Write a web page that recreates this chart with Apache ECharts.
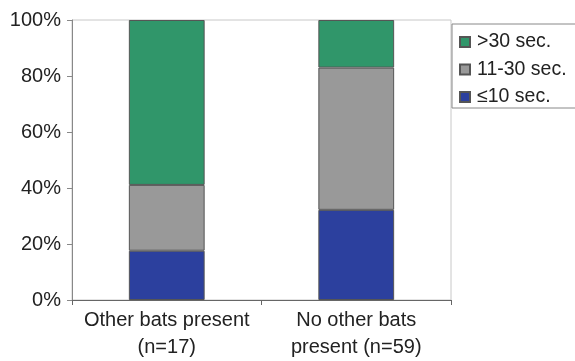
<!DOCTYPE html>
<html>
<head>
<meta charset="utf-8">
<script src="https://cdn.jsdelivr.net/npm/echarts@6/dist/echarts.min.js"></script>
<style>
html,body{margin:0;padding:0;background:#fff;}
#chart{width:575px;height:361px;}
</style>
</head>
<body>
<div id="chart"></div>
<script>
var categories = ['Other bats present\n(n=17)', 'No other bats\npresent (n=59)'];
var seriesNames = ['≤10 sec.', '11-30 sec.', '>30 sec.'];
var shortVals = [17.6, 32.2];
var midVals = [23.5, 50.8];
var longVals = [58.9, 17.0];
var yTicks = [0, 20, 40, 60, 80, 100];

var font = '"Liberation Sans", Arial, sans-serif';
var chart = echarts.init(document.getElementById('chart'), null, {renderer: 'canvas'});
function bar(name, data, color) {
  return {
    name: name, type: 'bar', stack: 'total', data: data, barWidth: '40%',
    itemStyle: {color: color, borderColor: '#555', borderWidth: 1},
    emphasis: {disabled: true}
  };
}
chart.setOption({
  animation: false,
  backgroundColor: '#fff',
  grid: {left: 72, right: 124, top: 20, bottom: 59, show: true, borderColor: '#c8c8c8', borderWidth: 1},
  legend: {
    orient: 'vertical', left: 452, top: 24,
    icon: 'rect',
    data: [seriesNames[2], seriesNames[1], seriesNames[0]],
    itemWidth: 10, itemHeight: 10, itemGap: 7.5,
    padding: [8, 40, 1, 7],
    borderColor: '#888', borderWidth: 1,
    textStyle: {fontFamily: font, fontSize: 19.5, color: '#222', lineHeight: 20, padding: [0, 0, 0, 2]},
    selectedMode: false
  },
  xAxis: {
    type: 'category', data: categories,
    axisLine: {lineStyle: {color: '#666'}},
    axisTick: {show: true, alignWithLabel: false, length: 5, lineStyle: {color: '#666'}},
    axisLabel: {interval: 0, fontFamily: font, fontSize: 20, color: '#222', lineHeight: 27, margin: 7}
  },
  yAxis: {
    type: 'value', min: yTicks[0], max: yTicks[yTicks.length - 1], interval: 20,
    splitLine: {show: false},
    axisLine: {show: true, lineStyle: {color: '#888'}},
    axisTick: {show: true, length: 5, lineStyle: {color: '#888'}},
    axisLabel: {formatter: '{value}%', fontFamily: font, fontSize: 20, color: '#222', margin: 11}
  },
  series: [
    bar(seriesNames[0], shortVals, '#2c409e'),
    bar(seriesNames[1], midVals, '#999999'),
    bar(seriesNames[2], longVals, '#30966a')
  ]
});
</script>
</body>
</html>
